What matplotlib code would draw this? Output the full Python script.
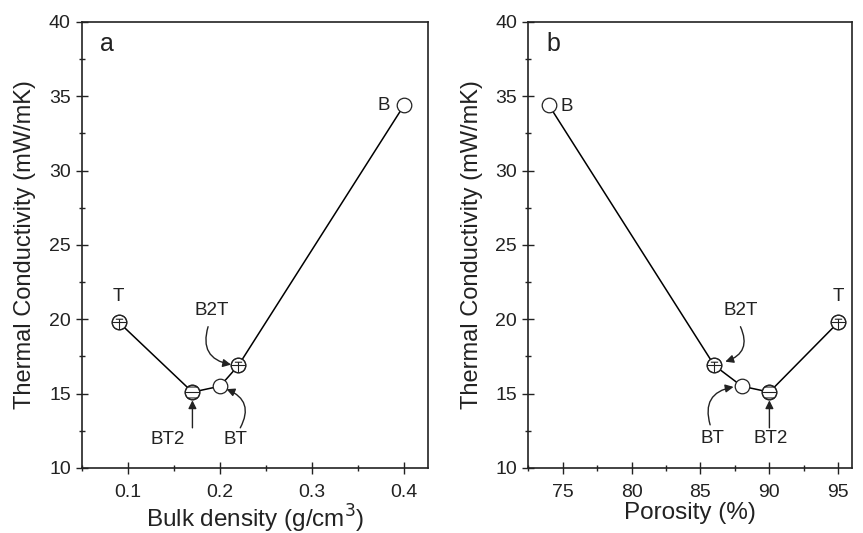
import numpy as np
import matplotlib.pyplot as plt
from matplotlib.path import Path
from matplotlib.ticker import MultipleLocator

plt.rcParams['font.family'] = ['Liberation Sans', 'DejaVu Sans']

# sample data (in line order)
names_a = ['T', 'BT2', 'BT', 'B2T', 'B']
density = [0.09, 0.17, 0.20, 0.22, 0.40]
cond_a = [19.8, 15.1, 15.5, 16.9, 34.4]

names_b = ['B', 'B2T', 'BT', 'BT2', 'T']
porosity = [74, 86, 88, 90, 95]
cond_b = [34.4, 16.9, 15.5, 15.1, 19.8]


def inner_marker(segments):
    # unit circle plus line segments drawn inside it
    circ = Path.unit_circle()
    parts = [circ]
    for (x0, y0), (x1, y1) in segments:
        parts.append(Path([(x0, y0), (x1, y1)], [Path.MOVETO, Path.LINETO]))
    return Path.make_compound_path(*parts)


symbols = {
    'T': inner_marker([((-1, 0), (1, 0)), ((-0.5, 0.45), (0.5, 0.45)), ((0, 0.45), (0, -1))]),
    'B2T': inner_marker([((-1, 0), (1, 0)), ((-0.5, 0.45), (0.5, 0.45)), ((0, 0.45), (0, -1))]),
    'BT2': inner_marker([((-1, 0), (1, 0)), ((-0.65, 0.75), (0.65, 0.75)), ((-0.65, -0.75), (0.65, -0.75))]),
}

fig = plt.figure(figsize=(8.63, 5.33), dpi=100)
ax1 = fig.add_axes([0.095, 0.122, 0.401, 0.837])
ax2 = fig.add_axes([0.612, 0.122, 0.3754, 0.837])

tc = '#222222'
arrow = dict(arrowstyle='-|>', color=tc, lw=1, mutation_scale=12, shrinkA=0, shrinkB=0)


def draw(ax, xs, ys, names):
    ax.plot(xs, ys, '-', color='black', lw=1.1, zorder=2)
    ax.plot(xs, ys, 'o', ms=10.5, mfc='white', mec=tc, mew=0.9, lw=0, zorder=3)
    for x, y, n in zip(xs, ys, names):
        if n in symbols:
            ax.plot([x], [y], marker=symbols[n], ms=10.5, mfc='none', mec=tc, mew=0.8, lw=0, zorder=4)


draw(ax1, density, cond_a, names_a)
draw(ax2, porosity, cond_b, names_b)

fs = 13.5
# panel a labels
ax1.text(0.09, 21.5, 'T', fontsize=fs, ha='center', va='center', color=tc)
ax1.text(0.378, 34.4, 'B', fontsize=fs, ha='center', va='center', color=tc)
ax1.text(0.191, 20.6, 'B2T', fontsize=fs, ha='center', va='center', color=tc)
ax1.annotate('', xy=(0.212, 16.95), xytext=(0.187, 19.5),
             arrowprops=dict(connectionstyle='arc3,rad=0.55', **arrow))
ax1.text(0.1435, 11.9, 'BT2', fontsize=fs, ha='center', va='center', color=tc)
ax1.annotate('', xy=(0.17, 14.55), xytext=(0.17, 12.7), arrowprops=dict(arrow))
ax1.text(0.217, 11.9, 'BT', fontsize=fs, ha='center', va='center', color=tc)
ax1.annotate('', xy=(0.207, 15.3), xytext=(0.222, 12.7),
             arrowprops=dict(connectionstyle='arc3,rad=0.55', **arrow))
ax1.text(0.077, 38.5, 'a', fontsize=18, ha='center', va='center', color=tc)

# panel b labels
ax2.text(95, 21.5, 'T', fontsize=fs, ha='center', va='center', color=tc)
ax2.text(75.3, 34.3, 'B', fontsize=fs, ha='center', va='center', color=tc)
ax2.text(87.9, 20.6, 'B2T', fontsize=fs, ha='center', va='center', color=tc)
ax2.annotate('', xy=(86.8, 17.15), xytext=(87.9, 19.5),
             arrowprops=dict(connectionstyle='arc3,rad=-0.55', **arrow))
ax2.text(85.9, 12.0, 'BT', fontsize=fs, ha='center', va='center', color=tc)
ax2.annotate('', xy=(87.4, 15.45), xytext=(85.7, 12.9),
             arrowprops=dict(connectionstyle='arc3,rad=-0.55', **arrow))
ax2.text(90.1, 12.0, 'BT2', fontsize=fs, ha='center', va='center', color=tc)
ax2.annotate('', xy=(90, 14.55), xytext=(90, 12.7), arrowprops=dict(arrow))
ax2.text(74.3, 38.5, 'b', fontsize=18, ha='center', va='center', color=tc)

ax1.set_xlim(0.05, 0.426)
ax1.xaxis.set_major_locator(MultipleLocator(0.1))
ax1.xaxis.set_minor_locator(MultipleLocator(0.05))
ax1.set_xlabel('Bulk density (g/cm$^3$)', fontsize=17.5, color=tc, labelpad=1)

ax2.set_xlim(72.5, 96)
ax2.xaxis.set_major_locator(MultipleLocator(5))
ax2.xaxis.set_minor_locator(MultipleLocator(2.5))
ax2.set_xlabel('Porosity (%)', fontsize=17.5, color=tc, labelpad=1)

for ax in (ax1, ax2):
    ax.set_ylim(10, 40)
    ax.yaxis.set_major_locator(MultipleLocator(5))
    ax.yaxis.set_minor_locator(MultipleLocator(2.5))
    ax.set_ylabel('Thermal Conductivity (mW/mK)', fontsize=17, color=tc, labelpad=9)
    ax.tick_params(which='both', direction='inout', top=False, right=False,
                   colors=tc, labelsize=14, width=1)
    ax.tick_params(axis='x', which='major', pad=7)
    ax.tick_params(which='major', length=9)
    ax.tick_params(which='minor', length=5)
    for s in ax.spines.values():
        s.set_linewidth(1.2)
        s.set_color(tc)

fig.savefig('out.png', dpi=100)
